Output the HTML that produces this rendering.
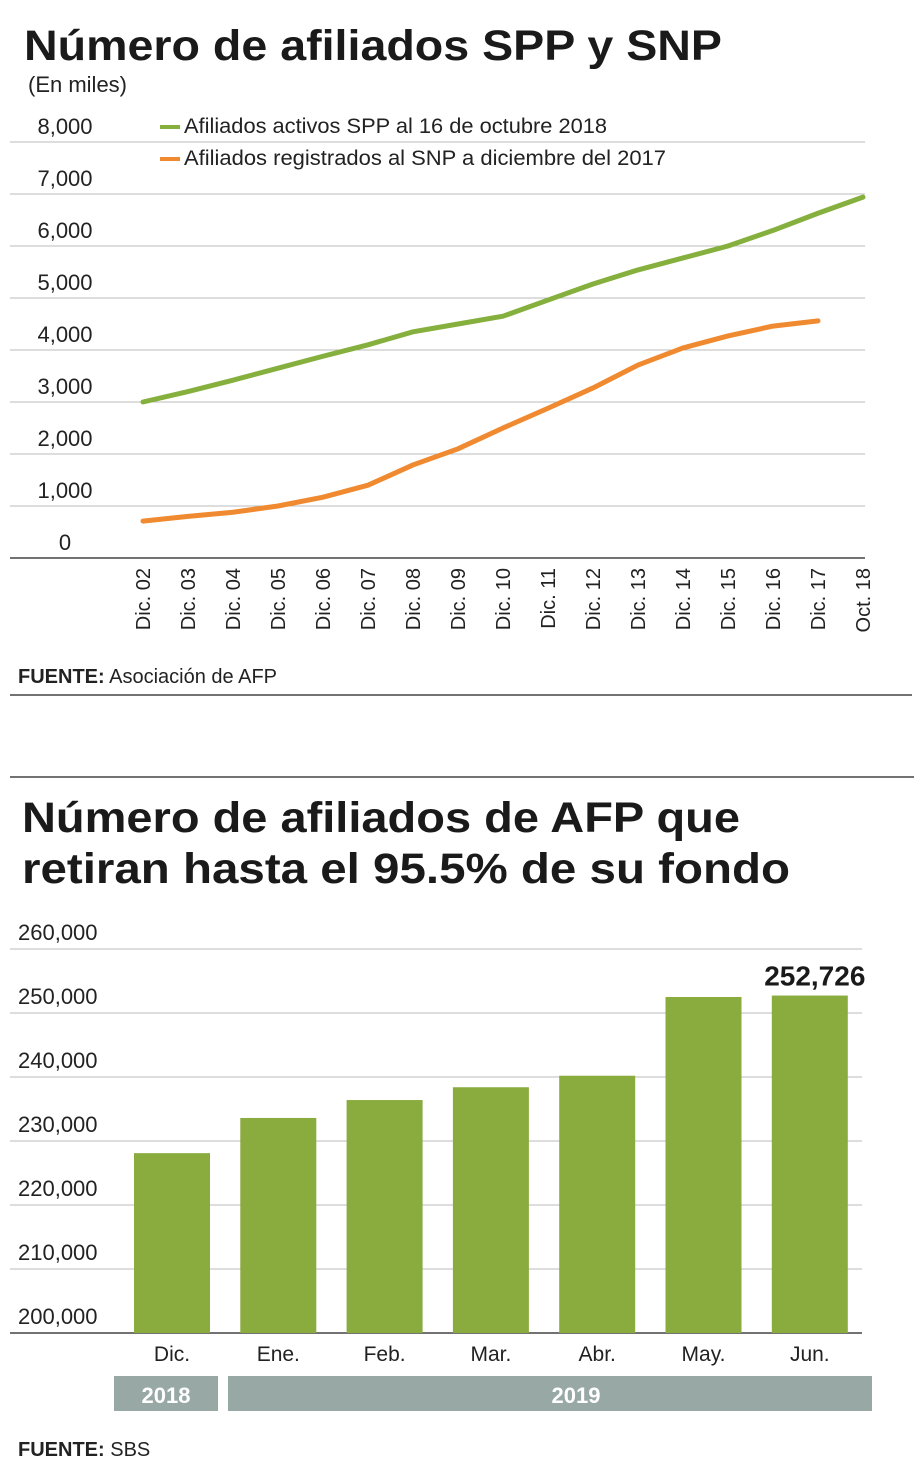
<!DOCTYPE html>
<html><head><meta charset="utf-8"><style>
body{margin:0;background:#fff;font-family:"Liberation Sans",sans-serif;}
svg{display:block}
</style></head><body>
<svg width="920" height="1473" viewBox="0 0 920 1473" font-family="Liberation Sans, sans-serif">
<text x="24" y="60" font-size="43" font-weight="bold" fill="#1a1a1a" textLength="698" lengthAdjust="spacingAndGlyphs">Número de afiliados SPP y SNP</text>
<text x="28" y="92" font-size="22" fill="#222">(En miles)</text>
<g id="c1grid"></g>
<g id="c1lines"></g>
<g>
<line x1="160" y1="127" x2="180" y2="127" stroke="#86b03e" stroke-width="4"/>
<text x="184" y="133" font-size="21" fill="#222" textLength="423" lengthAdjust="spacingAndGlyphs">Afiliados activos SPP al 16 de octubre 2018</text>
<line x1="160" y1="159" x2="180" y2="159" stroke="#f08a30" stroke-width="4"/>
<text x="184" y="165" font-size="21" fill="#222" textLength="482" lengthAdjust="spacingAndGlyphs">Afiliados registrados al SNP a diciembre del 2017</text>
</g>
<text x="18" y="683" font-size="20" fill="#222"><tspan font-weight="bold">FUENTE:</tspan> Asociación de AFP</text>
<line x1="10" y1="695" x2="912" y2="695" stroke="#444" stroke-width="1.5"/>
<line x1="10" y1="777" x2="914" y2="777" stroke="#444" stroke-width="1.5"/>
<text x="22" y="832" font-size="43" font-weight="bold" fill="#1a1a1a" textLength="718" lengthAdjust="spacingAndGlyphs">Número de afiliados de AFP que</text>
<text x="22" y="883" font-size="43" font-weight="bold" fill="#1a1a1a" textLength="768" lengthAdjust="spacingAndGlyphs">retiran hasta el 95.5% de su fondo</text>
<g id="c2"></g>
<rect x="114" y="1376" width="104" height="35" fill="#98a8a4"/>
<text x="166" y="1403" font-size="22" font-weight="bold" fill="#fff" text-anchor="middle">2018</text>
<rect x="228" y="1376" width="644" height="35" fill="#98a8a4"/>
<text x="576" y="1403" font-size="22" font-weight="bold" fill="#fff" text-anchor="middle">2019</text>
<text x="18" y="1456" font-size="20" fill="#222"><tspan font-weight="bold">FUENTE:</tspan> SBS</text>
</svg>
<script>
const NS="http://www.w3.org/2000/svg";
const years=["Dic. 02","Dic. 03","Dic. 04","Dic. 05","Dic. 06","Dic. 07","Dic. 08","Dic. 09","Dic. 10","Dic. 11","Dic. 12","Dic. 13","Dic. 14","Dic. 15","Dic. 16","Dic. 17","Oct. 18"];
const spp=[3000,3200,3420,3650,3880,4100,4350,4500,4650,4960,5270,5540,5770,6000,6300,6630,6940];
const snp=[710,800,880,1000,1170,1400,1790,2100,2500,2880,3270,3710,4040,4270,4460,4560];
const yTicks1=[0,1000,2000,3000,4000,5000,6000,7000,8000];
const months=["Dic.","Ene.","Feb.","Mar.","Abr.","May.","Jun."];
const retiros=[228100,233600,236400,238400,240200,252500,252726];
const yTicks2=[200000,210000,220000,230000,240000,250000,260000];
function el(t,a,p,txt){const e=document.createElementNS(NS,t);for(const k in a)e.setAttribute(k,a[k]);if(txt!==undefined)e.textContent=txt;p.appendChild(e);return e;}
const fmt=v=>v.toLocaleString("en-US");
// chart 1
const y1=v=>558-v/1000*52, x1=i=>143+i*45;
const g1=document.getElementById("c1grid");
yTicks1.forEach(v=>{
 const l=el("line",{x1:10,x2:865,y1:y1(v),y2:y1(v),stroke:v===0?"#444":"#bbb","stroke-width":v===0?1.5:1},g1);
 
 
 const t=el("text",{x:65,y:y1(v)-8,"font-size":22,fill:"#222","text-anchor":"middle"},g1,fmt(v));
 
 
});
years.forEach((c,i)=>{
 const t=el("text",{transform:`translate(${x1(i)+7},568) rotate(-90)`,"font-size":20,fill:"#222","text-anchor":"end"},g1,c);
 
 
});
const g1l=document.getElementById("c1lines");
[[spp,"#86b03e","line-spp"],[snp,"#f08a30","line-snp"]].forEach(([d,c,n])=>{
 const p=el("polyline",{points:d.map((v,i)=>x1(i)+","+y1(v)).join(" "),fill:"none",stroke:c,"stroke-width":5,"stroke-linejoin":"round","stroke-linecap":"round"},g1l);
 
 
});
// chart 2
const y2=v=>1333-(v-200000)/10000*64, x2=i=>134+i*106.3;
const g2=document.getElementById("c2");
yTicks2.forEach(v=>{
 const l=el("line",{x1:10,x2:862,y1:y2(v),y2:y2(v),stroke:v===200000?"#444":"#bbb","stroke-width":v===200000?1.5:1},g2);
 
 
 const t=el("text",{x:18,y:y2(v)-9,"font-size":22,fill:"#222","text-anchor":"start"},g2,fmt(v));
 
 
});
retiros.forEach((v,i)=>{
 const r=el("rect",{x:x2(i),y:y2(v),width:76,height:1333-y2(v),fill:"#8aab3e"},g2);
 
 
 const t=el("text",{x:x2(i)+38,y:1361,"font-size":21,fill:"#222","text-anchor":"middle"},g2,months[i]);
 
 
});
const last=retiros.length-1;
const vl=el("text",{x:x2(last)+43,y:y2(retiros[last])-10,"font-size":28,"font-weight":"bold",fill:"#1a1a1a","text-anchor":"middle"},g2,fmt(retiros[last]));


</script>
</body></html>
